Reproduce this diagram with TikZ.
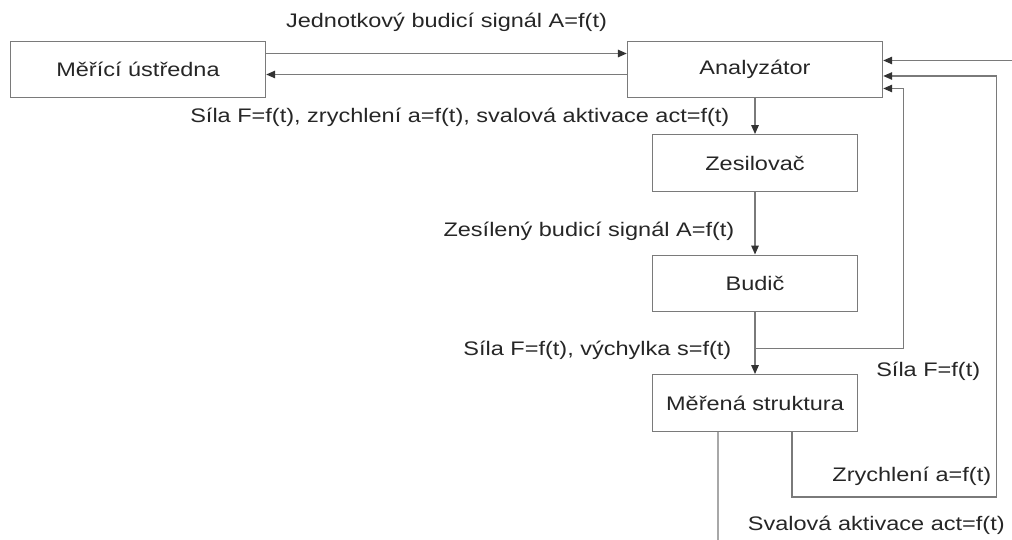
\documentclass[tikz,border=0pt]{standalone}
\usepackage{fontspec}
\setmainfont{Liberation Sans}[FakeStretch=1.2]
\usetikzlibrary{positioning,arrows.meta}
\tikzset{
  blok/.style={draw=black!52,line width=0.8pt,minimum width=4.1cm,minimum height=1.13cm,inner sep=0pt},
  sig/.style={-{Triangle[length=1.8mm,width=1.5mm,color=black!80]},draw=black!52,line width=0.8pt},
  popis/.style={inner sep=0pt,on grid=false},
}

\begin{document}
\begin{tikzpicture}[on grid,text=black!85,font=\fontsize{11.15}{13.2}\selectfont]
  \useasboundingbox (0,0) rectangle (20.24,-10.8);
  \node[blok,minimum width=5.1cm] (mu) at (2.76,-1.39) {Měřící ústředna};
  \node[blok,minimum width=5.1cm] (an) [right=12.34cm of mu] {Analyzátor};
  \node[blok] (zes) [below=1.87cm of an] {Zesilovač};
  \node[blok] (bud) [below=2.41cm of zes] {Budič};
  \node[blok] (mer) [below=2.39cm of bud] {Měřená struktura};
  % volne konce a lomy
  \coordinate (svin) at (20.24,-1.21);
  \coordinate (svdol) at (14.36,-10.8);
  \coordinate (zrc) at (19.93,-9.94);
  % hlavni vetev
  \draw[sig] ([yshift=.32cm]mu.east) -- node[popis,anchor=base,yshift=.52cm]{Jednotkový budicí signál A=f(t)} ([yshift=.32cm]mu.east -| an.west);
  \draw[sig] ([yshift=-.1cm]mu.east -| an.west) -- ([yshift=-.1cm]mu.east);
  \draw[sig] (an) -- node[popis,left=.5cm,pos=.53]{Síla F=f(t), zrychlení a=f(t), svalová aktivace act=f(t)} (zes);
  \draw[sig] (zes) -- node[popis,left=.4cm,pos=.63]{Zesílený budicí signál A=f(t)} (bud);
  \draw[sig] (bud) -- node[popis,left=.46cm,pos=.62]{Síla F=f(t), výchylka s=f(t)} coordinate[pos=.59] (j) (mer);
  % zpetne vazby
  \draw[sig] (j) -| coordinate[pos=.5] (sila) ([xshift=.4cm,yshift=-.38cm]an.east) -- ([yshift=-.38cm]an.east);
  \node[popis,anchor=base] (lsila) at ([xshift=.5cm,yshift=-.56cm]sila) {Síla F=f(t)};
  \draw[sig] ([xshift=.74cm]mer.south) |- (zrc) |- ([yshift=-.13cm]an.east);
  \node[popis,anchor=base east] (lzr) at ([xshift=-.1cm,yshift=.31cm]zrc) {Zrychlení a=f(t)};
  \draw[draw=black!52,line width=0.8pt] ([xshift=-.74cm]mer.south) -- (svdol);
  \node[popis,anchor=base east] (lsv) at (20.1,-10.6) {Svalová aktivace act=f(t)};
  \draw[sig] (svin) -- (svin -| an.east);
\end{tikzpicture}
\end{document}
